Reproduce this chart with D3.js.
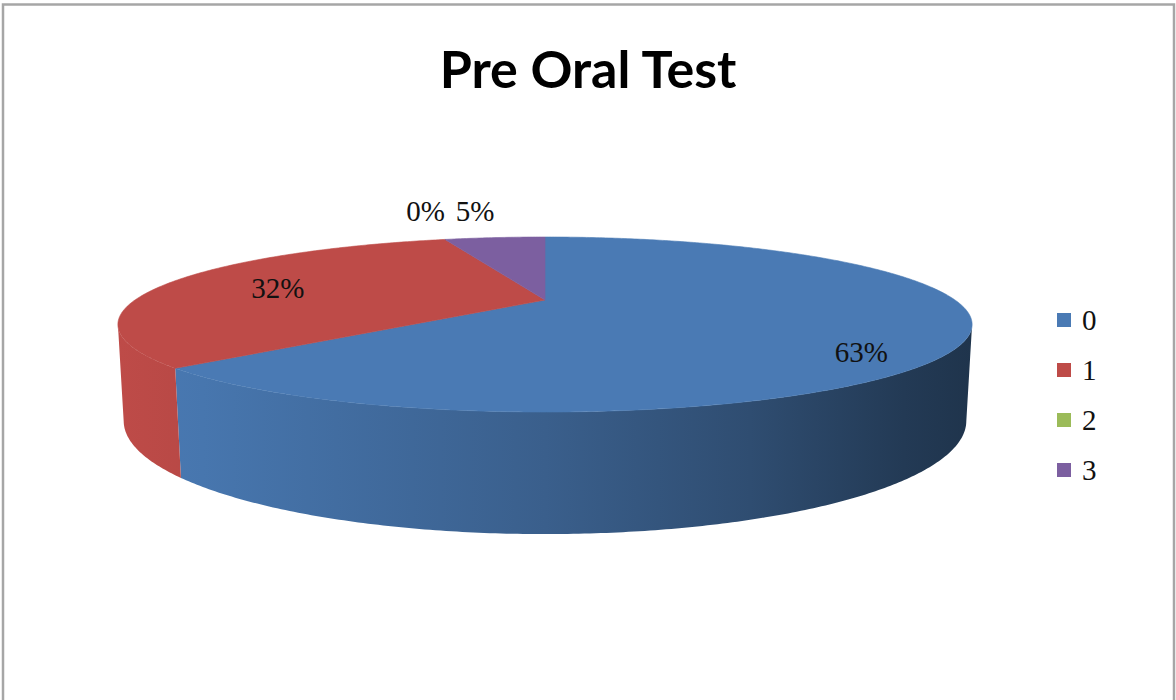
<!DOCTYPE html>
<html>
<head>
<meta charset="utf-8">
<script src="https://cdn.jsdelivr.net/npm/d3@7/dist/d3.min.js"></script>
<style>
  body { margin: 0; background: #fff; overflow: hidden; }
  svg { display: block; }
</style>
</head>
<body>
<svg id="chart"></svg>
<script>
// data
const title = 'Pre Oral Test';
const categories = ['0', '1', '2', '3'];
const percents = [63, 32, 0, 5];
const colors = ['#4A7AB4', '#BE4B48', '#9BBB59', '#7C5FA0'];

// 3d pie: config
function getPieConfig() {
    let width = 1176;
    let height = 700;
    // perspective camera fitted to the reference
    let cam = {
        cx: 545, cy: 300,   // screen position of the pie centre
        f: 1435,            // focal length, px
        dist: 3.5,          // camera distance, in pie radii
        tilt: Math.asin(0.1967),
        depth: 0.226        // slab thickness, in pie radii
    }
    let svg = d3.select('#chart')
        .attr('width', width)
        .attr('height', height)
    return { width, height, cam, svg }
}

// world point on the pie (theta clockwise from 12 o'clock, r radius, y height) -> screen
function makeProjection(cam) {
    let s = Math.sin(cam.tilt), c = Math.cos(cam.tilt);
    return function(theta, r, y) {
        let x = r * Math.sin(theta);
        let z = -r * Math.cos(theta);
        let v = y * c - z * s;
        let w = cam.dist - (z * c + y * s);
        return [cam.cx + cam.f * x / w, cam.cy - cam.f * v / w];
    }
}

function arcPoints(proj, a, b, r, y) {
    let n = Math.max(2, Math.ceil((b - a) / 0.01));
    let pts = [];
    for (let i = 0; i <= n; i++) {
        pts.push(proj(a + (b - a) * i / n, r, y));
    }
    return pts;
}

function drawBorder(config) {
    config.svg.append('rect')
        .attr('x', 3)
        .attr('y', 4.5)
        .attr('width', config.width - 5)
        .attr('height', config.height + 20)
        .attr('fill', 'none')
        .attr('stroke', '#a6a6a6')
        .attr('stroke-width', 2.5)
}

function drawTitle(config) {
    config.svg.append('text')
        .attr('x', 588)
        .attr('y', 88)
        .attr('text-anchor', 'middle')
        .style('font-family', 'Lato, "Open Sans", sans-serif')
        .style('font-weight', 'bold')
        .style('font-size', '52px')
        .attr('fill', '#000')
        .text(title)
}

function drawPie(config) {
    let { svg, cam } = config;
    let proj = makeProjection(cam);
    let slices = d3.pie().sort(null).value(d => d)(percents);

    // outer wall faces the camera between these angles
    let visA = Math.acos(-Math.cos(cam.tilt) / cam.dist);
    let visB = 2 * Math.PI - visA;
    let leftX = proj(visB, 1, 0)[0], rightX = proj(visA, 1, 0)[0];

    let defs = svg.append('defs');
    let shade = [[0, 0], [0.1, 0.1], [0.5, 0.7], [0.74, 1.3], [0.92, 2.1], [1, 2.4]];
    colors.forEach((col, i) => {
        let g = defs.append('linearGradient')
            .attr('id', 'wall' + i)
            .attr('gradientUnits', 'userSpaceOnUse')
            .attr('x1', leftX).attr('x2', rightX)
            .attr('y1', 0).attr('y2', 0);
        shade.forEach(([o, dk]) => {
            g.append('stop')
                .attr('offset', o)
                .attr('stop-color', d3.color(col).darker(dk).formatHex())
        })
    })

    let line = d3.line();
    let body = svg.append('g');

    // side walls
    slices.forEach((d, i) => {
        let a = Math.max(d.startAngle, visA), b = Math.min(d.endAngle, visB);
        if (b <= a) return;
        let top = arcPoints(proj, a, b, 1, 0);
        let bottom = arcPoints(proj, a, b, 1, -cam.depth).reverse();
        body.append('path')
            .attr('d', line(top.concat(bottom)) + 'Z')
            .attr('fill', `url(#wall${i})`)
    })

    // top faces
    slices.forEach((d, i) => {
        if (d.endAngle - d.startAngle <= 0) return;
        let pts = [proj(0, 0, 0)].concat(arcPoints(proj, d.startAngle, d.endAngle, 1, 0));
        body.append('path')
            .attr('d', line(pts) + 'Z')
            .attr('fill', colors[i])
            .attr('stroke', colors[i])
            .attr('stroke-width', 0.6)
    })

    // data labels: inside for big slices, above the rim for the small ones
    let total = d3.sum(percents);
    let nudge = [[-14, 24], [16, 2], [-8, -22], [-14, -20]];
    slices.forEach((d, i) => {
        let mid = (d.startAngle + d.endAngle) / 2;
        let share = d.value / total;
        let r = share > 0.1 ? (i === 0 ? 0.8 : 0.75) : 1.15;
        let p = proj(mid, r, 0);
        svg.append('text')
            .attr('x', p[0] + nudge[i][0])
            .attr('y', p[1] + nudge[i][1])
            .attr('dy', '0.35em')
            .attr('text-anchor', 'middle')
            .style('font-family', '"Liberation Serif", serif')
            .style('font-size', '29px')
            .attr('fill', '#111')
            .text(Math.round(share * 100) + '%')
    })
}

function drawLegend(config) {
    let legend = config.svg.append('g')
        .attr('transform', 'translate(1057,320)');
    let rows = legend.selectAll('g')
        .data(categories)
        .join('g')
        .attr('transform', (d, i) => `translate(0,${i * 50})`);
    rows.append('rect')
        .attr('x', 0).attr('y', -7)
        .attr('width', 14).attr('height', 14)
        .attr('fill', (d, i) => colors[i]);
    rows.append('text')
        .attr('x', 25)
        .attr('y', 0)
        .attr('dy', '0.35em')
        .style('font-family', '"Liberation Serif", serif')
        .style('font-size', '29px')
        .attr('fill', '#111')
        .text(d => d);
}

let config = getPieConfig();
drawBorder(config);
drawTitle(config);
drawPie(config);
drawLegend(config);
</script>
</body>
</html>
